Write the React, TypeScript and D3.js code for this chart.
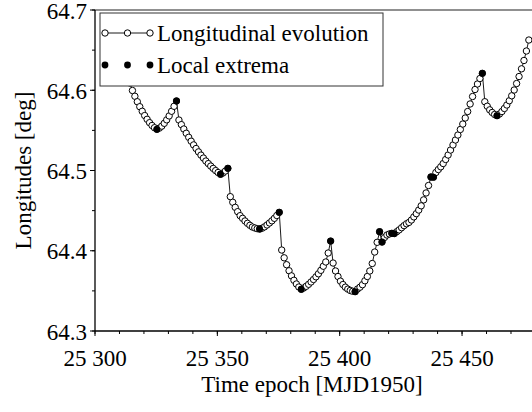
import React from "react";
import * as d3 from "d3";

// Daily samples of the longitude (deg), first sample epoch below (MJD1950)
const firstEpoch = 25313.3;
const longitudes = [
  64.6178, 64.6090, 64.5997, 64.5925, 64.5857, 64.5795, 64.5738, 64.5685, 64.5638, 64.5596,
  64.5561, 64.5533, 64.5513, 64.5528, 64.5553, 64.5588, 64.5631, 64.5680, 64.5738, 64.5800,
  64.5866,
  64.5629, 64.5572, 64.5517, 64.5464, 64.5414, 64.5365, 64.5319, 64.5274, 64.5232, 64.5192,
  64.5155, 64.5118, 64.5086, 64.5055, 64.5026, 64.4999, 64.4975, 64.4953, 64.4969, 64.4994,
  64.5027,
  64.4674, 64.4604, 64.4541, 64.4487, 64.4437, 64.4404, 64.4371, 64.4342, 64.4317, 64.4296,
  64.4284, 64.4275, 64.4271, 64.4281, 64.4298, 64.4321, 64.4346, 64.4373, 64.4404, 64.4439,
  64.4479,
  64.4009, 64.3912, 64.3826, 64.3751, 64.3687, 64.3632, 64.3586, 64.3548, 64.3520, 64.3536,
  64.3557, 64.3582, 64.3611, 64.3642, 64.3675, 64.3713, 64.3756, 64.3807, 64.3860, 64.3972,
  64.4121,
  64.3847, 64.3748, 64.3679, 64.3621, 64.3579, 64.3546, 64.3522, 64.3505, 64.3495, 64.3490,
  64.3523, 64.3546, 64.3577, 64.3626, 64.3679, 64.3748, 64.3841, 64.3984, 64.4105, 64.4237,
  64.4109, 64.4165, 64.4196, 64.4209, 64.4217, 64.4214, 64.4237, 64.4260, 64.4287, 64.4313,
  64.4336, 64.4353, 64.4383, 64.4422, 64.4462, 64.4507, 64.4560, 64.4634, 64.4720, 64.4813,
  64.4919, 64.4917, 64.4975, 64.5012, 64.5046, 64.5087, 64.5137, 64.5193, 64.5255, 64.5318,
  64.5380, 64.5442, 64.5511, 64.5579, 64.5654, 64.5735, 64.5829, 64.5922, 64.6009, 64.6078,
  64.6146, 64.6211,
  64.5857, 64.5801, 64.5756, 64.5723, 64.5698, 64.5683, 64.5704, 64.5735, 64.5773, 64.5816,
  64.5869, 64.5931, 64.6003, 64.6084, 64.6171, 64.6267, 64.6371, 64.6489, 64.6626,
];

// Local extrema
const extremaEpochs = [
  25325.3, 25333.3, 25351.3, 25354.3, 25367.3, 25375.3, 25384.3, 25396.3, 25406.3,
  25416.3, 25417.3, 25421.3, 25422.3, 25437.3, 25438.3, 25458.3, 25464.3,
];
const extremaValues = [
  64.5513, 64.5866, 64.4953, 64.5027, 64.4271, 64.4479, 64.3520, 64.4121, 64.3490,
  64.4237, 64.4109, 64.4217, 64.4214, 64.4919, 64.4917, 64.6211, 64.5683,
];

const xMajorTicks = [25300, 25350, 25400, 25450];
const xMinorTicks = d3.range(25300, 25481, 10);
const yMajorTicks = [64.3, 64.4, 64.5, 64.6, 64.7];
const yMinorTicks = d3.range(64.3, 64.7001, 0.05);

const legendLabels = ["Longitudinal evolution", "Local extrema"];
const xTitle = "Time epoch [MJD1950]";
const yTitle = "Longitudes [deg]";

const W = 532;
const H = 412;
const FONT = "'Liberation Serif', 'Times New Roman', Times, serif";

export default function App() {
  const x = d3.scaleLinear().domain([25300, 25500]).range([95, 95 + 200 * 2.447]);
  const y = d3.scaleLinear().domain([64.3, 64.7]).range([331, 10]);
  const pts = longitudes.map((v, i) => [firstEpoch + i, v] as [number, number]);
  const line = d3
    .line<[number, number]>()
    .x((d) => x(d[0]))
    .y((d) => y(d[1]));
  const fmtX = (v: number) => {
    const s = String(v);
    return s.slice(0, s.length - 3) + " " + s.slice(-3);
  };
  const x0 = x.range()[0];
  const yBottom = y.range()[0];
  const yTop = y.range()[1];
  const txt = { fontFamily: FONT };

  return (
    <svg
      width={W}
      height={H}
      style={{ position: "absolute", left: 0, top: 0, background: "#fff" }}
    >
      <rect x={0} y={0} width={W} height={H} fill="#fff" />
      {/* data */}
      <path d={line(pts) || ""} fill="none" stroke="#000" strokeWidth={0.9} />
      {pts.map((d, i) => (
        <circle key={i} cx={x(d[0])} cy={y(d[1])} r={3.2} fill="#fff" stroke="#000" strokeWidth={1} />
      ))}
      {extremaEpochs.map((t, i) => (
        <circle key={"e" + i} cx={x(t)} cy={y(extremaValues[i])} r={3.4} fill="#000" />
      ))}

      {/* frame */}
      <line x1={x0} x2={W} y1={yTop} y2={yTop} stroke="#222" strokeWidth={1.2} />
      <line x1={x0} x2={W} y1={yBottom} y2={yBottom} stroke="#000" strokeWidth={1.3} />
      <line x1={x0} x2={x0} y1={yTop} y2={yBottom} stroke="#000" strokeWidth={1.3} />

      {/* x ticks */}
      {xMinorTicks.map((t) => (
        <line key={"xm" + t} x1={x(t)} x2={x(t)} y1={yBottom} y2={yBottom + 3} stroke="#000" strokeWidth={1} />
      ))}
      {xMajorTicks.map((t) => (
        <g key={"xM" + t}>
          <line x1={x(t)} x2={x(t)} y1={yBottom} y2={yBottom + 5} stroke="#000" strokeWidth={1} />
          <text x={x(t)} y={366} textAnchor="middle" fontSize={23} fill="#000" style={txt}>
            {fmtX(t)}
          </text>
        </g>
      ))}

      {/* y ticks */}
      {yMinorTicks.map((v, i) => (
        <line key={"ym" + i} x1={x0 - 3} x2={x0} y1={y(v)} y2={y(v)} stroke="#000" strokeWidth={1} />
      ))}
      {yMajorTicks.map((v) => (
        <g key={"yM" + v}>
          <line x1={x0 - 5} x2={x0} y1={y(v)} y2={y(v)} stroke="#000" strokeWidth={1} />
          <text x={87} y={y(v) + 8.5} textAnchor="end" fontSize={23} fill="#000" style={txt}>
            {v.toFixed(1)}
          </text>
        </g>
      ))}

      {/* titles */}
      <text x={312} y={392} textAnchor="middle" fontSize={23} fill="#000" style={txt}>
        {xTitle}
      </text>
      <text
        transform={`translate(31, ${(yTop + yBottom) / 2}) rotate(-90)`}
        textAnchor="middle"
        fontSize={23}
        fill="#000"
        style={txt}
      >
        {yTitle}
      </text>

      {/* legend */}
      <rect x={100} y={13} width={283} height={73} fill="#fff" stroke="#333" strokeWidth={1} />
      <line x1={105} x2={150} y1={33} y2={33} stroke="#000" strokeWidth={0.9} />
      {[105, 127.5, 150].map((cx) => (
        <circle key={"l1" + cx} cx={cx} cy={33} r={3.2} fill="#fff" stroke="#000" strokeWidth={1} />
      ))}
      <text x={157} y={41} fontSize={23} fill="#000" style={txt}>
        {legendLabels[0]}
      </text>
      {[105, 127.5, 150].map((cx) => (
        <circle key={"l2" + cx} cx={cx} cy={65} r={3.4} fill="#000" />
      ))}
      <text x={157} y={73} fontSize={23} fill="#000" style={txt}>
        {legendLabels[1]}
      </text>
    </svg>
  );
}
